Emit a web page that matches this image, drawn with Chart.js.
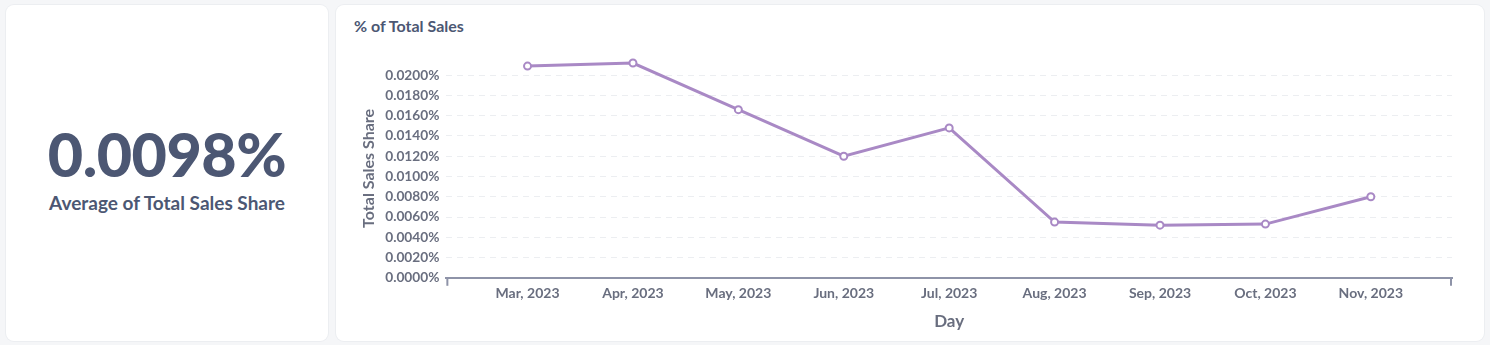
<!DOCTYPE html>
<html>
<head>
<meta charset="utf-8">
<script src="https://cdn.jsdelivr.net/npm/chart.js@4"></script>
<style>
  body { margin: 0; background: #f5f6f8; font-family: Lato, sans-serif; width: 1490px; height: 345px; overflow: hidden; }
  .card { position: absolute; background: #fff; border-radius: 8px; box-shadow: 0 0 0 1px #eceef1; }
  #scalar { left: 6px; top: 5px; width: 322px; height: 336px; }
  #scalar .value { position: absolute; left: 0; right: 0; top: 109px; text-align: center; font-size: 61px; font-weight: 900; color: #4c5773; line-height: 80px; letter-spacing: -0.5px; }
  #scalar .label { position: absolute; left: 0; right: 0; top: 186px; text-align: center; font-size: 19px; font-weight: 700; color: #4c5773; }
  #line { left: 336px; top: 5px; width: 1148px; height: 336px; }
  #line .title { position: absolute; left: 18px; top: 11px; font-size: 16px; font-weight: 700; color: #4c5773; }
  #line canvas { position: absolute; left: 0; top: 0; }
</style>
</head>
<body>
<div class="card" id="scalar">
  <div class="value">0.0098%</div>
  <div class="label">Average of Total Sales Share</div>
</div>
<div class="card" id="line">
  <div class="title">% of Total Sales</div>
  <canvas id="salesShareChart" width="1148" height="336"></canvas>
</div>
<script>
// Месяцы и доля продаж (%)
const months = ['Mar, 2023', 'Apr, 2023', 'May, 2023', 'Jun, 2023', 'Jul, 2023', 'Aug, 2023', 'Sep, 2023', 'Oct, 2023', 'Nov, 2023'];
const shareValues = [0.0209, 0.0212, 0.0166, 0.0120, 0.0148, 0.0055, 0.0052, 0.0053, 0.0080];
const yTicks = [0, 0.002, 0.004, 0.006, 0.008, 0.010, 0.012, 0.014, 0.016, 0.018, 0.020];

const axisColor = '#8e93a8';
const tickColor = '#696e7f';

// Засечки на концах оси X
const axisCaps = {
  id: 'axisCaps',
  afterDraw(chart) {
    const { ctx, chartArea } = chart;
    ctx.save();
    ctx.strokeStyle = axisColor;
    ctx.lineWidth = 2;
    [chartArea.left + 1, chartArea.right - 1].forEach(x => {
      ctx.beginPath();
      ctx.moveTo(x, chartArea.bottom);
      ctx.lineTo(x, chartArea.bottom + 8);
      ctx.stroke();
    });
    ctx.restore();
  }
};

new Chart(document.getElementById('salesShareChart'), {
  type: 'line',
  data: {
    datasets: [{
      data: shareValues.map((v, i) => ({ x: i, y: v })),
      borderColor: '#a989c5',
      borderWidth: 3,
      tension: 0,
      pointRadius: 3.5,
      pointBackgroundColor: '#fff',
      pointBorderColor: '#a989c5',
      pointBorderWidth: 2,
      clip: false
    }]
  },
  plugins: [axisCaps],
  options: {
    responsive: false,
    animation: false,
    layout: { padding: { top: 54, right: 32, bottom: 9, left: 19 } },
    plugins: { legend: { display: false }, tooltip: { enabled: false } },
    scales: {
      x: {
        type: 'linear',
        min: -0.77,
        max: 8.77,
        afterBuildTicks: axis => { axis.ticks = months.map((m, i) => ({ value: i })); },
        ticks: {
          color: tickColor,
          font: { family: 'Lato', size: 14, weight: 'bold' },
          padding: 7,
          maxRotation: 0,
          autoSkip: false,
          callback: v => months[v]
        },
        grid: { display: false, drawTicks: false },
        border: { display: true, color: axisColor, width: 2 },
        title: {
          display: true,
          text: 'Day',
          color: tickColor,
          font: { family: 'Lato', size: 17, weight: 'bold' },
          padding: { top: 3, bottom: 0 }
        }
      },
      y: {
        min: 0,
        max: 0.0216,
        afterBuildTicks: axis => { axis.ticks = yTicks.map(v => ({ value: v })); },
        ticks: {
          color: tickColor,
          font: { family: 'Lato', size: 13.7, weight: 'bold' },
          padding: 7,
          autoSkip: false,
          callback: v => v.toFixed(4) + '%'
        },
        grid: {
          color: '#eceef1',
          drawTicks: false
        },
        border: { display: false, dash: [6, 5] },
        title: {
          display: true,
          text: 'Total Sales Share',
          color: tickColor,
          font: { family: 'Lato', size: 16, weight: 'bold' },
          padding: { bottom: 0 }
        }
      }
    }
  }
});
</script>
</body>
</html>
